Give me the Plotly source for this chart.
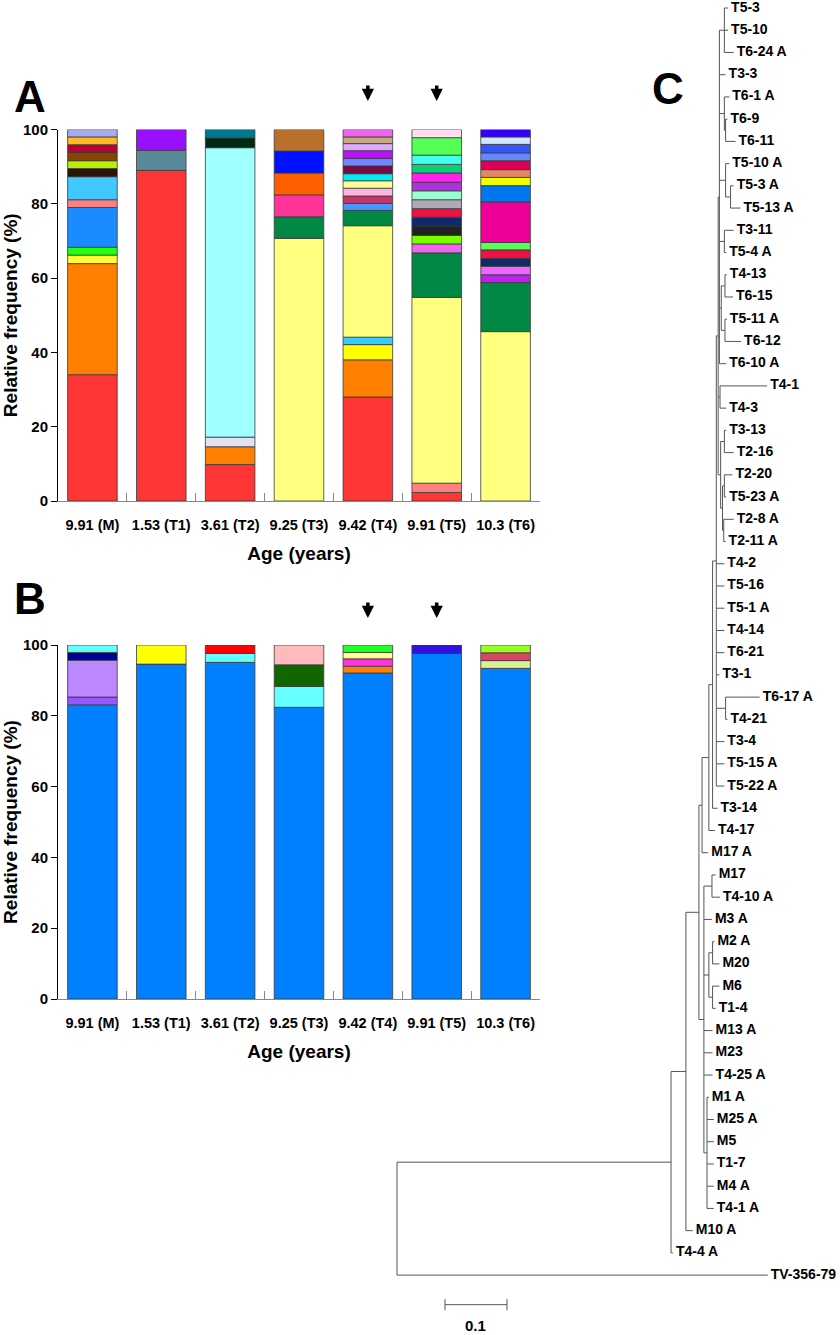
import plotly.graph_objects as go

# ---------------- data ----------------
categories = ["9.91 (M)", "1.53 (T1)", "3.61 (T2)", "9.25 (T3)", "9.42 (T4)", "9.91 (T5)", "10.3 (T6)"]

# Panel A: segment heights (%) bottom -> top
a_M = [34.0, 29.9, 2.3, 2.1, 10.7, 2.1, 6.2, 2.2, 2.1, 2.2, 2.1, 2.1, 2.0]
a_T1 = [89.0, 5.4, 5.6]
a_T2 = [9.8, 4.8, 2.6, 77.9, 2.6, 2.3]
a_T3 = [70.7, 5.8, 5.9, 5.9, 5.9, 5.8]
a_T4 = [28.0, 10.0, 4.1, 2.0, 30.0, 4.1, 1.9, 2.0, 2.1, 2.0, 1.9, 2.1, 2.0, 2.1, 1.9, 1.8, 2.0]
a_T5 = [2.3, 2.5, 50.0, 12.0, 2.4, 2.3, 2.5, 2.4, 2.3, 2.4, 2.4, 2.3, 2.5, 2.3, 2.5, 4.7, 2.2]
a_T6 = [45.6, 13.2, 2.1, 2.3, 2.1, 2.3, 2.0, 10.9, 4.4, 2.2, 2.1, 2.4, 2.1, 2.3, 2.0, 2.0]

# Panel B
b_M = [83.1, 2.2, 10.4, 2.2, 2.1]
b_T1 = [94.6, 5.4]
b_T2 = [95.1, 2.5, 2.4]
b_T3 = [82.4, 5.9, 6.1, 5.6]
b_T4 = [92.1, 1.9, 2.1, 1.8, 2.1]
b_T5 = [97.6, 2.4]
b_T6 = [93.4, 2.2, 2.2, 2.2]

# colours (styles)
ca_M = ["#FF3636", "#FF8000", "#FFFF33", "#22FF11", "#1A8CFF", "#FF8080", "#40C8FF", "#2A1505",
        "#BBEE00", "#884400", "#BB0033", "#FFBB22", "#AAAAEE"]
ca_T1 = ["#FF3636", "#5A8A9A", "#9910FF"]
ca_T2 = ["#FF3636", "#FF8000", "#E2E2F2", "#A0FFFF", "#002A10", "#00778F"]
ca_T3 = ["#FFFF80", "#008844", "#FF3399", "#FF5E00", "#0011FF", "#B8702A"]
ca_T4 = ["#FF3636", "#FF8000", "#FFFF00", "#33CCFF", "#FFFF80", "#008844", "#4499FF", "#CC3366",
         "#FFB3DD", "#FFFF99", "#00F0F0", "#7A0A44", "#7088FF", "#BB11FF", "#DDAAFF", "#C8AA80", "#EE66EE"]
ca_T5 = ["#FF3636", "#FF8080", "#FFFF80", "#008844", "#EE66EE", "#77FF00", "#222222", "#0F2A6B",
         "#EE1144", "#B0AAB8", "#99FFCC", "#AA33DD", "#FF22EE", "#11CC77", "#44FFEE", "#55FF55", "#FFDDEE"]
ca_T6 = ["#FFFF80", "#008844", "#BB22EE", "#EE66FF", "#0F2A6B", "#EE1144", "#55FF55", "#F0009A",
         "#0077EE", "#EEFF00", "#E08866", "#DD0055", "#6688FF", "#3355FF", "#D0E8FF", "#3300FF"]

cb_M = ["#0080FF", "#9955FF", "#BB88FF", "#000099", "#66FFFF"]
cb_T1 = ["#0080FF", "#FFFF00"]
cb_T2 = ["#0080FF", "#66FFFF", "#FF0000"]
cb_T3 = ["#0080FF", "#66FFFF", "#116600", "#FFBBBB"]
cb_T4 = ["#0080FF", "#FF8000", "#FF33DD", "#FFFF88", "#22FF22"]
cb_T5 = ["#0080FF", "#3311DD"]
cb_T6 = ["#0080FF", "#DDEE99", "#DD4466", "#99FF22"]

panelA = [a_M, a_T1, a_T2, a_T3, a_T4, a_T5, a_T6]
panelB = [b_M, b_T1, b_T2, b_T3, b_T4, b_T5, b_T6]
colA = [ca_M, ca_T1, ca_T2, ca_T3, ca_T4, ca_T5, ca_T6]
colB = [cb_M, cb_T1, cb_T2, cb_T3, cb_T4, cb_T5, cb_T6]

arrow_samples = ["9.42 (T4)", "9.91 (T5)"]

# Phylogenetic tree: leaf = (name, branch length); node = ([children], branch length)
tree = ([
    ([
        ([
            ([
                ([
                    ([
                        ([
                            ([
                                ([
                                    ([
                                        ([("T5-3", 0.006), ("T5-10", 0.006), ("T6-24 A", 0.015)], 0.008),
                                        ("T3-3", 0.010),
                                        ([("T6-1 A", 0.008), ([("T6-9", 0.003), ("T6-11", 0.016)], 0.002)], 0.008),
                                        ([("T5-10 A", 0.006), ([("T5-3 A", 0.005), ("T5-13 A", 0.016)], 0.008)], 0.010),
                                        ([("T3-11", 0.015), ("T5-4 A", 0.003)], 0.008),
                                        ([([("T4-13", 0.003), ("T6-15", 0.013)], 0.006),
                                          ([("T5-11 A", 0.003), ("T6-12", 0.026)], 0.006)], 0.003),
                                        ("T6-10 A", 0.011),
                                    ], 0.002),
                                    ([("T4-1", 0.076), ("T4-3", 0.010)], 0.003),
                                    ([([("T3-13", 0.003), ("T2-16", 0.015)], 0.006),
                                      ([([("T2-20", 0.013), ("T5-23 A", 0.003)], 0.003),
                                        ([("T2-8 A", 0.016), ("T2-11 A", 0.003)], 0.002)], 0.003)], 0.004),
                                ], 0.003),
                                ("T4-2", 0.013), ("T5-16", 0.013), ("T5-1 A", 0.013), ("T4-14", 0.013),
                                ("T6-21", 0.013), ("T3-1", 0.005),
                                ([("T6-17 A", 0.055), ("T4-21", 0.003)], 0.015),
                                ("T3-4", 0.013), ("T5-15 A", 0.013), ("T5-22 A", 0.013),
                            ], 0.006),
                            ("T3-14", 0.008),
                        ], 0.006),
                        ("T4-17", 0.010),
                    ], 0.011),
                    ("M17 A", 0.010),
                ], 0.005),
                ([
                    ([("M17", 0.006), ("T4-10 A", 0.013)], 0.013),
                    ("M3 A", 0.013),
                    ([([("M2 A", 0.003), ("M20", 0.011)], 0.006), ([("M6", 0.011), ("T1-4", 0.005)], 0.006)], 0.008),
                    ("M13 A", 0.014), ("M23", 0.014), ("T4-25 A", 0.014),
                    ([("M1 A", 0.003), ("M25 A", 0.011), ("M5", 0.011), ("T1-7", 0.011),
                      ("M4 A", 0.011), ("T4-1 A", 0.011)], 0.005),
                ], 0.008),
            ], 0.021),
            ("M10 A", 0.011),
        ], 0.024),
        ("T4-4 A", 0.003),
    ], 0.442),
    ("TV-356-79", 0.598),
], 0.0)

scale_bar_length = 0.1

# ---------------- figure ----------------
W, H = 840, 1335
FONT = "Liberation Sans"
LEAF_PX = 22.23    # vertical spacing of tree leaves (px)
TOP_PX = 8.0       # px position of first leaf
UNIT_PX = 620.0    # px per substitution unit
LABEL_GAP = 3.0    # extra px between branch tip and label
fig = go.Figure()


def py(px):
    return 1 - px / H


# stacked bars
for axes, data, cols in (("A", panelA, colA), ("B", panelB, colB)):
    xa, ya = ("x", "y") if axes == "A" else ("x2", "y2")
    for cat, segs, cs in zip(categories, data, cols):
        base = 0.0
        for h, c in zip(segs, cs):
            fig.add_trace(go.Bar(x=[cat], y=[h], base=[base], marker_color=c,
                                 marker_line=dict(color="#3a3a3a", width=0.8),
                                 width=0.72, xaxis=xa, yaxis=ya, showlegend=False,
                                 hoverinfo="skip"))
            base += h

# tree layout
tx, ty, labels, lx, ly = [], [], [], [], []
counter = [0]


def walk(node, xparent):
    content, bl = node
    x = xparent + bl
    if isinstance(content, str):
        y = counter[0]
        counter[0] += 1
        labels.append(content)
        lx.append(x + LABEL_GAP / UNIT_PX)
        ly.append(y)
    else:
        ys = [walk(ch, x) for ch in content]
        y = (ys[0] + ys[-1]) / 2
        tx.extend([x, x, None])
        ty.extend([ys[0], ys[-1], None])
    tx.extend([xparent, x, None])
    ty.extend([y, y, None])
    return y


walk(tree, 0.0)
nleaf = counter[0]

fig.add_trace(go.Scatter(x=tx, y=ty, mode="lines", line=dict(color="#555555", width=1),
                         xaxis="x3", yaxis="y3", hoverinfo="skip", showlegend=False))
fig.add_trace(go.Scatter(x=lx, y=ly, mode="text", text=labels, textposition="middle right",
                         textfont=dict(family=FONT, size=14, color="black", weight="bold"),
                         cliponaxis=False,
                         xaxis="x3", yaxis="y3", hoverinfo="skip", showlegend=False))

# scale bar
sb_x0 = 0.0774
sb_y = nleaf - 1 + 1.33
fig.add_trace(go.Scatter(x=[sb_x0, sb_x0, None, sb_x0, sb_x0 + scale_bar_length, None,
                            sb_x0 + scale_bar_length, sb_x0 + scale_bar_length],
                         y=[sb_y - 0.25, sb_y + 0.25, None, sb_y, sb_y, None, sb_y - 0.25, sb_y + 0.25],
                         mode="lines", line=dict(color="#555555", width=1),
                         xaxis="x3", yaxis="y3", hoverinfo="skip", showlegend=False))
fig.add_annotation(x=sb_x0 + scale_bar_length / 2, y=sb_y + 0.95, xref="x3", yref="y3",
                   text=str(scale_bar_length), showarrow=False,
                   font=dict(family=FONT, size=15, color="black", weight="bold"))

# axes
tickfont = dict(family=FONT, size=14.5, color="black", weight="bold")
titlefont = dict(family=FONT, size=19, color="black", weight="bold")
xcommon = dict(type="category", categoryorder="array", categoryarray=categories,
               range=[-0.5, 6.5], showline=True, linecolor="#888888", linewidth=1,
               ticks="inside", tickson="boundaries", ticklen=8, tickcolor="#888888",
               tickfont=tickfont, ticklabelstandoff=11, showgrid=False, zeroline=False,
               automargin=False,
               title=dict(text="Age (years)", font=titlefont, standoff=14))
ycommon = dict(range=[0, 100], tickvals=[0, 20, 40, 60, 80, 100], showline=True,
               linecolor="black", linewidth=1, ticks="outside", ticklen=6, tickcolor="black",
               tickfont=dict(family=FONT, size=15, color="black", weight="bold"),
               showgrid=False, zeroline=False, automargin=False,
               title=dict(text="Relative frequency (%)", font=titlefont, standoff=3))

xdom = [58 / W, 540 / W]
fig.update_layout(
    width=W, height=H, margin=dict(l=0, r=0, t=0, b=0, autoexpand=False),
    paper_bgcolor="white", plot_bgcolor="rgba(0,0,0,0)", barmode="overlay", showlegend=False,
    xaxis=dict(domain=xdom, anchor="y", **xcommon),
    yaxis=dict(domain=[py(501), py(129.5)], anchor="x", **ycommon),
    xaxis2=dict(domain=xdom, anchor="y2", **xcommon),
    yaxis2=dict(domain=[py(999), py(645)], anchor="x2", **ycommon),
    xaxis3=dict(domain=[390 / W, 1.0], anchor="y3", range=[-7 / UNIT_PX, 443 / UNIT_PX],
                visible=False),
    yaxis3=dict(domain=[0, 1], anchor="x3", range=[(H - TOP_PX) / LEAF_PX, -TOP_PX / LEAF_PX],
                visible=False),
)

# panel letters
for letter, xp, yp in (("A", 30, 97), ("B", 30, 598), ("C", 668, 88)):
    fig.add_annotation(x=xp / W, y=py(yp), xref="paper", yref="paper", text=letter,
                       showarrow=False, xanchor="center", yanchor="middle",
                       font=dict(family=FONT, size=44, color="black", weight="bold"))

# arrows
for cat in arrow_samples:
    for xr, head in (("x", 101), ("x2", 618)):
        fig.add_annotation(x=cat, y=py(head), xref=xr, yref="paper", text="",
                           showarrow=True, arrowhead=2, arrowsize=0.7, arrowwidth=3.5,
                           arrowcolor="black", ax=0, ay=-17)

fig.write_html("out.html", config={"displayModeBar": False},
               post_script="document.body.style.margin='0';")
